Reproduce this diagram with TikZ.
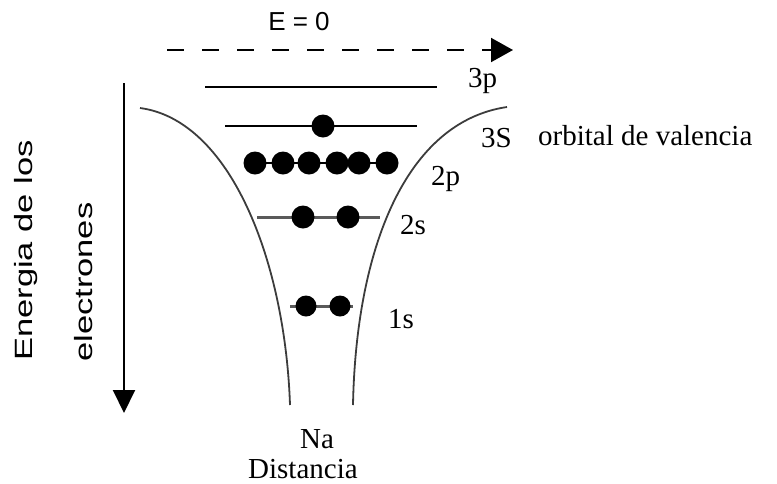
\documentclass[tikz,border=0pt]{standalone}
\usepackage{fontspec}
\setmainfont{Liberation Serif}
\newfontfamily\axisfont{Liberation Sans}
\usetikzlibrary{arrows.meta}
\definecolor{wallgray}{HTML}{3C3C3C}
\definecolor{bondgray}{HTML}{5A5A5A}

\begin{document}
\begin{tikzpicture}[x=1pt,y=-1pt,
  level/.style={line width=2pt},
  bond/.style={line width=3pt, draw=bondgray},
  wall/.style={line width=1.8pt, draw=wallgray},
  electron/.style={circle, fill=black, minimum size=23pt, inner sep=0pt},
  lab/.style={anchor=base west, inner sep=0pt, font=\fontsize{29}{29}\selectfont},
  axlab/.style={anchor=base west, inner sep=0pt, rotate=90, font=\axisfont\fontsize{25}{25}\selectfont}]
\useasboundingbox (0,0) rectangle (777,483);

% axes
\node[font=\axisfont\fontsize{26}{26}\selectfont] (ezero) at (299,22) {E = 0};
\coordinate (zeroa) at (167,50);
\coordinate (zerob) at (513,50);
\draw[line width=2pt, dash pattern=on 17pt off 18pt, -{Triangle[length=22pt,width=24pt]}] (zeroa) -- (zerob);
\coordinate (entop) at (124,83);
\coordinate (enbot) at (124,413);
\draw[line width=2pt, -{Triangle[length=23pt,width=22pt]}] (entop) -- (enbot);
\node[axlab] (enlab) at (32,361) {\scalebox{1.38}[1]{Energia de los}};
\node[axlab] (elab) at (92,362) {\scalebox{1.38}[1]{electrones}};

% potential well
\coordinate (wla) at (140,108);
\coordinate (wlb) at (290,405);
\coordinate (wra) at (507,107);
\coordinate (wrb) at (353,405);
\draw[wall] (wla) .. controls (230,120) and (285,260) .. (wlb);
\draw[wall] (wra) .. controls (405,122) and (356,250) .. (wrb);

% levels
\coordinate (p3a) at (205,87);
\coordinate (p3b) at (437,87);
\draw[level] (p3a) -- (p3b);
\coordinate (s3a) at (225,126);
\coordinate (s3b) at (417,126);
\draw[level] (s3a) -- (s3b);
\node[electron] (s3e) at (323,126) {};

\coordinate (p2a) at (255,163);
\coordinate (p2b) at (387,163);
\draw[level] (p2a) -- (p2b);
\foreach \x [count=\i] in {255,283,309,337,359,387}
  \node[electron] (p2e\i) at (\x,163) {};

\coordinate (s2a) at (257,217);
\coordinate (s2b) at (380,217);
\draw[bond] (s2a) -- (s2b);
\node[electron] (s2e1) at (303,217) {};
\node[electron] (s2e2) at (348,217) {};

\coordinate (s1a) at (290,306);
\coordinate (s1b) at (353,306);
\draw[bond] (s1a) -- (s1b);
\node[electron, minimum size=21pt] (s1e1) at (306,306) {};
\node[electron, minimum size=21pt] (s1e2) at (340,306) {};

% labels
\node[lab] (l3p) at (468,87) {3p};
\node[lab] (l3s) at (481,147) {3S};
\node[lab] (lval) at (538,145) {orbital de valencia};
\node[lab] (l2p) at (431,185) {2p};
\node[lab] (l2s) at (400,234) {2s};
\node[lab] (l1s) at (388,328) {1s};
\node[lab] (lna) at (300,448) {Na};
\node[lab] (ldist) at (248,478) {Distancia};
\end{tikzpicture}
\end{document}
